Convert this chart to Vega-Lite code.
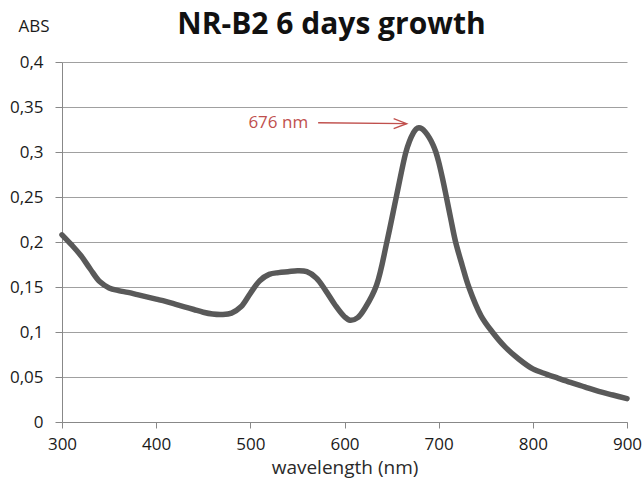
{
  "$schema": "https://vega.github.io/schema/vega-lite/v6.json",
  "width": 565,
  "height": 360,
  "autosize": {"type": "none"},
  "padding": {"left": 62, "top": 62, "right": 17, "bottom": 61},
  "background": "white",
  "config": {"view": {"stroke": null}, "font": "Open Sans"},
  "title": {"text": "NR-B2 6 days growth", "font": "Open Sans", "fontSize": 30, "fontWeight": "bold", "color": "#111", "anchor": "middle", "dx": -13, "offset": -23},
  "datasets": {
    "spectrum": [
      {"wavelength": 300, "abs": 0.208},
      {"wavelength": 310, "abs": 0.197},
      {"wavelength": 320, "abs": 0.185},
      {"wavelength": 330, "abs": 0.170},
      {"wavelength": 340, "abs": 0.156},
      {"wavelength": 350, "abs": 0.149},
      {"wavelength": 360, "abs": 0.146},
      {"wavelength": 370, "abs": 0.144},
      {"wavelength": 380, "abs": 0.1415},
      {"wavelength": 390, "abs": 0.139},
      {"wavelength": 400, "abs": 0.1365},
      {"wavelength": 410, "abs": 0.134},
      {"wavelength": 420, "abs": 0.131},
      {"wavelength": 430, "abs": 0.128},
      {"wavelength": 440, "abs": 0.125},
      {"wavelength": 450, "abs": 0.122},
      {"wavelength": 460, "abs": 0.120},
      {"wavelength": 470, "abs": 0.1195},
      {"wavelength": 480, "abs": 0.121},
      {"wavelength": 490, "abs": 0.128},
      {"wavelength": 500, "abs": 0.143},
      {"wavelength": 510, "abs": 0.157},
      {"wavelength": 520, "abs": 0.164},
      {"wavelength": 530, "abs": 0.166},
      {"wavelength": 540, "abs": 0.167},
      {"wavelength": 550, "abs": 0.168},
      {"wavelength": 560, "abs": 0.167},
      {"wavelength": 570, "abs": 0.160},
      {"wavelength": 580, "abs": 0.146},
      {"wavelength": 590, "abs": 0.130},
      {"wavelength": 600, "abs": 0.117},
      {"wavelength": 606, "abs": 0.113},
      {"wavelength": 614, "abs": 0.116},
      {"wavelength": 622, "abs": 0.127},
      {"wavelength": 634, "abs": 0.152},
      {"wavelength": 645, "abs": 0.200},
      {"wavelength": 655, "abs": 0.250},
      {"wavelength": 665, "abs": 0.299},
      {"wavelength": 669, "abs": 0.312},
      {"wavelength": 673, "abs": 0.321},
      {"wavelength": 676, "abs": 0.3255},
      {"wavelength": 679, "abs": 0.327},
      {"wavelength": 682, "abs": 0.326},
      {"wavelength": 686, "abs": 0.322},
      {"wavelength": 690, "abs": 0.316},
      {"wavelength": 694, "abs": 0.308},
      {"wavelength": 697, "abs": 0.300},
      {"wavelength": 700, "abs": 0.289},
      {"wavelength": 704, "abs": 0.271},
      {"wavelength": 708, "abs": 0.251},
      {"wavelength": 713, "abs": 0.225},
      {"wavelength": 718, "abs": 0.200},
      {"wavelength": 725, "abs": 0.174},
      {"wavelength": 732, "abs": 0.150},
      {"wavelength": 745, "abs": 0.118},
      {"wavelength": 757, "abs": 0.100},
      {"wavelength": 770, "abs": 0.084},
      {"wavelength": 785, "abs": 0.070},
      {"wavelength": 800, "abs": 0.059},
      {"wavelength": 815, "abs": 0.053},
      {"wavelength": 826, "abs": 0.049},
      {"wavelength": 840, "abs": 0.044},
      {"wavelength": 855, "abs": 0.039},
      {"wavelength": 870, "abs": 0.034},
      {"wavelength": 885, "abs": 0.030},
      {"wavelength": 900, "abs": 0.026}
    ],
    "arrow": [{"x1": 572, "x2": 666, "y1": 0.3325, "y2": 0.3315, "label": "676 nm"}]
  },
  "layer": [
    {
      "data": {"name": "spectrum"},
      "mark": {"type": "line", "color": "#595959", "strokeWidth": 5.5, "strokeCap": "round", "interpolate": "catmull-rom"},
      "encoding": {
        "x": {"field": "wavelength", "type": "quantitative", "scale": {"domain": [300, 900], "nice": false},
          "axis": {"title": "wavelength (nm)", "values": [300, 400, 500, 600, 700, 800, 900], "grid": false, "labelFlush": false, "domainColor": "#888", "tickColor": "#888", "tickSize": 6, "labelFont": "Open Sans", "labelFontSize": 17, "labelColor": "#1a1a1a", "labelPadding": 8, "titleFont": "Open Sans", "titleFontSize": 19, "titleFontWeight": "normal", "titleColor": "#2a2a2a", "titlePadding": 6}},
        "y": {"field": "abs", "type": "quantitative", "scale": {"domain": [0, 0.4], "nice": false},
          "axis": {"title": "ABS", "values": [0, 0.05, 0.1, 0.15, 0.2, 0.25, 0.3, 0.35, 0.4], "format": ".2~f", "labelExpr": "replace(datum.label, '.', ',')", "grid": true, "gridColor": "#a0a0a0", "gridWidth": 1, "domainColor": "#888", "tickColor": "#888", "tickSize": 7, "labelFont": "Open Sans", "labelFontSize": 17, "labelColor": "#1a1a1a", "labelPadding": 12, "titleFont": "Open Sans", "titleFontSize": 17, "titleFontWeight": "normal", "titleColor": "#1a1a1a", "titleAngle": 0, "titleAlign": "left", "titleBaseline": "middle", "titleX": -44, "titleY": -36}}
      }
    },
    {
      "data": {"name": "arrow"},
      "mark": {"type": "rule", "color": "#c0504d", "strokeWidth": 1.4},
      "encoding": {
        "x": {"field": "x1", "type": "quantitative"},
        "x2": {"field": "x2"},
        "y": {"field": "y1", "type": "quantitative"},
        "y2": {"field": "y2"}
      }
    },
    {
      "data": {"name": "arrow"},
      "mark": {"type": "point", "shape": "M -2.6 -1 L 0 0 L -2.6 1", "filled": false, "stroke": "#c0504d", "strokeWidth": 1.4, "size": 100, "opacity": 1},
      "encoding": {
        "x": {"field": "x2", "type": "quantitative"},
        "y": {"field": "y2", "type": "quantitative"}
      }
    },
    {
      "data": {"name": "arrow"},
      "mark": {"type": "text", "color": "#c0504d", "font": "Open Sans", "fontSize": 17, "align": "right", "baseline": "middle", "dx": -10},
      "encoding": {
        "x": {"field": "x1", "type": "quantitative"},
        "y": {"field": "y1", "type": "quantitative"},
        "text": {"field": "label"}
      }
    }
  ]
}
